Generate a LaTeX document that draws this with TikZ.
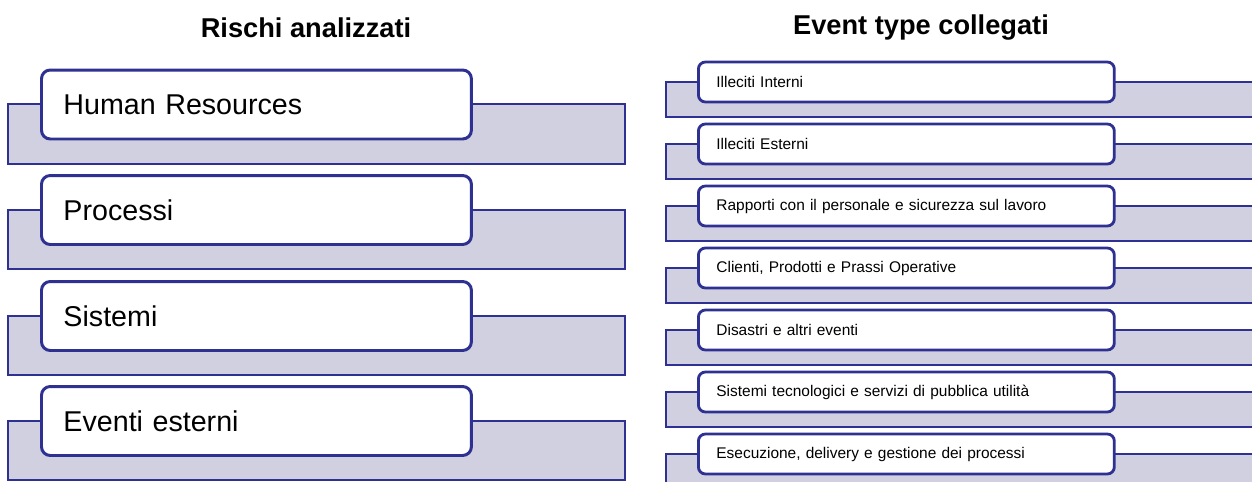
\documentclass[tikz,border=0pt]{standalone}
\usepackage{fontspec}
\setmainfont{Liberation Sans}
\definecolor{frame}{RGB}{46,49,146}
\definecolor{bandfill}{RGB}{208,208,224}
\begin{document}
\begin{tikzpicture}[x=0.02cm, y=-0.02cm]
    \tikzset{title/.style={font=\fontsize{15.5}{18}\selectfont\bfseries}}
    \tikzset{band/.style={draw=frame, line width=1.2pt, fill=bandfill}}
    \tikzset{bigbox/.style={draw=frame, line width=1.7pt, fill=white, rounded corners=5pt, anchor=west, minimum height=1.38cm, text width=7.72cm, inner xsep=0.44cm, align=left, font=\fontsize{16.3}{19}\selectfont}}
    \tikzset{smallbox/.style={draw=frame, line width=1.6pt, fill=white, rounded corners=4pt, anchor=west, minimum height=0.8cm, text width=7.6cm, inner xsep=0.36cm, align=left, font=\fontsize{8.8}{10}\selectfont}}
    \clip (0,0) rectangle (1252,481);
    \fill[white] (0,0) rectangle (1252,481);

    \node[title] (lefttitle) at (306,28) {Rischi analizzati};
    \node[title] (righttitle) at (921,28) {Event type collegati};

    % rischi
    \draw[band] (8,104) rectangle (625,164);
    \draw[band] (8,210) rectangle (625,269);
    \draw[band] (8,316) rectangle (625,375);
    \draw[band] (8,421) rectangle (625,480);
    \node[bigbox] (hr) at (40,104.5) {Human Resources};
    \node[bigbox] (proc) at (40,210) {Processi};
    \node[bigbox] (sist) at (40,316) {Sistemi};
    \node[bigbox] (ext) at (40,421) {Eventi esterni};

    % event type
    \draw[band] (666,82) rectangle (1260,117);
    \draw[band] (666,144) rectangle (1260,179);
    \draw[band] (666,206) rectangle (1260,241);
    \draw[band] (666,268) rectangle (1260,303);
    \draw[band] (666,330) rectangle (1260,365);
    \draw[band] (666,392) rectangle (1260,427);
    \draw[band] (666,454) rectangle (1260,489);
    \node[smallbox] (ev1) at (697,82) {Illeciti Interni};
    \node[smallbox] (ev2) at (697,144) {Illeciti Esterni};
    \node[smallbox] (ev3) at (697,206) {Rapporti con il personale e sicurezza sul lavoro};
    \node[smallbox] (ev4) at (697,268) {Clienti, Prodotti e Prassi Operative};
    \node[smallbox] (ev5) at (697,330) {Disastri e altri eventi};
    \node[smallbox] (ev6) at (697,392) {Sistemi tecnologici e servizi di pubblica utilità};
    \node[smallbox] (ev7) at (697,454) {Esecuzione, delivery e gestione dei processi};
  \end{tikzpicture}
\end{document}
